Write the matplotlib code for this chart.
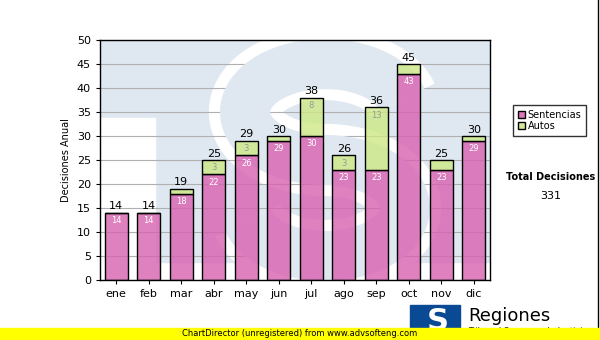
import matplotlib.pyplot as plt
import matplotlib.patches as mpatches
from matplotlib.colors import to_rgba
import numpy as np

meses = ["ene", "feb", "mar", "abr", "may", "jun", "jul", "ago", "sep", "oct", "nov", "dic"]
sentencias = [14, 14, 18, 22, 26, 29, 30, 23, 23, 43, 23, 29]
autos = [0, 0, 1, 3, 3, 1, 8, 3, 13, 2, 2, 1]

pink = to_rgba("#d860b0", 0.8)
green = to_rgba("#cde884", 0.8)
wm = "#dfe8f1"

fig = plt.figure(figsize=(6, 3.4), dpi=100)
ax = fig.add_axes([100/600, 1-280/340, 390/600, 240/340])

# TS watermark behind the bars, built in pixel space then mapped to axes fraction
def to_ax(px, py):
    return (np.asarray(px) - 100) / 390.0, (280 - np.asarray(py)) / 240.0

ax.set_facecolor("white")
ax.add_patch(mpatches.Rectangle((0, 18/240), 1, 1 - 18/240, transform=ax.transAxes, color=wm, zorder=0))
ax.add_patch(mpatches.Rectangle((0, 0), 55/390, 162/240, transform=ax.transAxes, color="white", zorder=0))
t1 = np.radians(np.linspace(15, 270, 80))
t2 = np.radians(np.linspace(90, -165, 80))
sx = np.concatenate([325 + 80*np.cos(t1), 325 + 80*np.cos(t2)])
sy = np.concatenate([112 - 48*np.sin(t1), 208 - 48*np.sin(t2)])
ax_x, ax_y = to_ax(sx, sy)
ax.plot(ax_x, ax_y, transform=ax.transAxes, color="white", linewidth=52, solid_capstyle="butt", zorder=0.5)
ax.plot(ax_x, ax_y, transform=ax.transAxes, color=wm, linewidth=36, solid_capstyle="butt", zorder=0.6)

x = np.arange(len(meses))
tot = np.array(sentencias) + np.array(autos)
ax.bar(x, sentencias, width=0.72, color=pink, edgecolor="black", linewidth=1.0, zorder=3)
ax.bar(x, autos, bottom=sentencias, width=0.72, color=green, edgecolor="black", linewidth=1.0, zorder=3)

for i in range(len(meses)):
    ax.text(x[i], tot[i] + 0.3, str(tot[i]), ha="center", va="bottom", fontsize=8, zorder=4)
    ax.text(x[i], sentencias[i] - 0.7, str(sentencias[i]), ha="center", va="top",
            fontsize=6, color="white", zorder=4)
    if autos[i] >= 3:
        ax.text(x[i], tot[i] - 0.7, str(autos[i]), ha="center", va="top",
                fontsize=6, color="#999999", zorder=4)

ax.set_xlim(-0.5, 11.5)
ax.set_ylim(0, 50)
ax.set_yticks(range(0, 51, 5))
ax.set_xticks(x)
ax.set_xticklabels(meses)
ax.tick_params(labelsize=8, length=3, width=0.8)
ax.yaxis.grid(True, color="#b0b0b0", linewidth=0.8, zorder=1)
ax.set_axisbelow(True)
ax.set_ylabel("Decisiones Anual", fontsize=7)
for s in ax.spines.values():
    s.set_linewidth(1.0)
    s.set_zorder(5)

# legend
ax.legend(handles=[mpatches.Patch(facecolor="#dd77bb", edgecolor="black", label="Sentencias"),
                   mpatches.Patch(facecolor="#d4ea96", edgecolor="black", label="Autos")],
          loc="upper left", bbox_to_anchor=(508/600, 1-100/340), bbox_transform=fig.transFigure,
          fontsize=7, frameon=True, fancybox=False, edgecolor="black",
          handlelength=0.7, handleheight=0.7, handletextpad=0.3, borderpad=0.5, labelspacing=0.1)

fig.text(551/600, 1-177/340, "Total Decisiones", ha="center", va="center", fontsize=7, fontweight="bold")
fig.text(551/600, 1-196/340, "331", ha="center", va="center", fontsize=8)

# bottom: logo and banner
fig.patches.append(mpatches.Rectangle((410/600, 5/340), 50/600, 30/340, transform=fig.transFigure,
                                      color="#0a4a94", zorder=2))
fig.text(438/600, 19/340, "S", ha="center", va="center", fontsize=22, fontweight="bold", color="white", zorder=3)
fig.text(468/600, 24/340, "Regiones", ha="left", va="center", fontsize=13, zorder=3)
fig.text(468/600, 9/340, "Tribunal Supremo de Justicia", ha="left", va="center", fontsize=6, zorder=2)
fig.patches.append(mpatches.Rectangle((0, 0), 1, 12/340, transform=fig.transFigure, color="#ffff00", zorder=4))
fig.text(300/600, 6/340, "ChartDirector (unregistered) from www.advsofteng.com", ha="center", va="center",
         fontsize=6, zorder=5)
fig.lines.append(plt.Line2D([598/600, 598/600], [12/340, 1], transform=fig.transFigure, color="black", linewidth=1))

fig.savefig("out.png", dpi=100)
